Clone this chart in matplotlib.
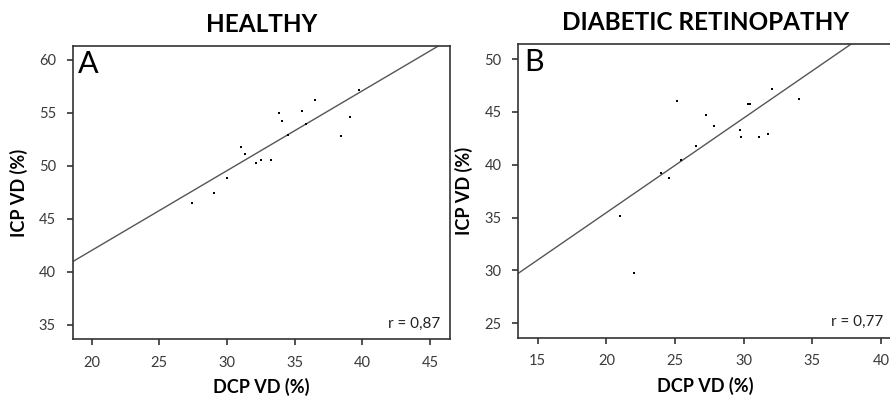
import numpy as np
import matplotlib
matplotlib.use('Agg')
import matplotlib.pyplot as plt

plt.rcParams['font.family'] = ['Lato', 'DejaVu Sans']

# Panel A - healthy
dcp_a = [27.44, 29.06, 29.98, 31.01, 31.31, 32.14, 32.51, 33.25, 33.87,
         34.09, 34.53, 35.54, 35.84, 36.48, 38.40, 39.06, 39.78]
icp_a = [46.54, 47.45, 48.84, 51.79, 51.16, 50.31, 50.57, 50.60, 54.97,
         54.21, 52.96, 55.19, 53.93, 56.23, 52.83, 54.59, 57.17]
fit_a = [0.753, 26.97]   # slope, intercept
r_a = '0,87'

# Panel B - diabetic retinopathy
dcp_b = [21.00, 22.04, 24.00, 24.56, 25.12, 25.44, 26.50, 27.23, 27.82,
         29.76, 29.78, 30.29, 30.46, 31.09, 31.77, 32.06, 34.05]
icp_b = [35.15, 29.73, 39.25, 38.71, 46.00, 40.45, 41.77, 44.67, 43.66,
         43.32, 42.65, 45.74, 45.78, 42.62, 42.88, 47.13, 46.19]
fit_b = [0.895, 17.57]
r_b = '0,77'

xticks_a = [20, 25, 30, 35, 40, 45]
yticks_a = [35, 40, 45, 50, 55, 60]
xticks_b = [15, 20, 25, 30, 35, 40]
yticks_b = [25, 30, 35, 40, 45, 50]

fig = plt.figure(figsize=(8.9, 4.0), dpi=100)
ax_a = fig.add_axes([0.0817, 0.1518, 0.4239, 0.7332])
ax_b = fig.add_axes([0.5824, 0.1558, 0.4200, 0.7342])

panels = [
    (ax_a, dcp_a, icp_a, fit_a, r_a, 'A', 'HEALTHY',
     xticks_a, yticks_a, (18.6, 46.48), (33.65, 61.32)),
    (ax_b, dcp_b, icp_b, fit_b, r_b, 'B', 'DIABETIC RETINOPATHY',
     xticks_b, yticks_b, (13.59, 40.8), (23.64, 51.42)),
]

for ax, xs, ys, fit, r, letter, title, xt, yt, xl, yl in panels:
    ax.set_xlim(*xl)
    ax.set_ylim(*yl)
    # regression line
    xx = np.array(xl)
    ax.plot(xx, fit[0] * xx + fit[1], color='#555555', lw=1.0)
    ax.scatter(xs, ys, s=3.5, marker='s', color='black', zorder=3, linewidths=0)
    ax.set_xticks(xt)
    ax.set_yticks(yt)
    ax.tick_params(direction='out', length=4, width=1.2, color='#333333',
                   labelsize=10.5, labelcolor='#3a3a3a', pad=8)
    for sp in ax.spines.values():
        sp.set_linewidth(1.2)
        sp.set_color('#333333')
    ax.text(0.015, 0.985, letter, transform=ax.transAxes, ha='left', va='top',
            fontsize=22, color='black')
    ax.text(0.975, 0.03, 'r = ' + r, transform=ax.transAxes, ha='right',
            va='bottom', fontsize=11, color='#222222')
    ax.set_title(title, fontsize=17.5, fontweight='bold', pad=10)
    ax.set_xlabel('DCP VD (%)', fontsize=13, fontweight='bold', labelpad=6)
    ax.set_ylabel('ICP VD (%)', fontsize=13, fontweight='bold', labelpad=8)

fig.savefig('out.png', dpi=100)
